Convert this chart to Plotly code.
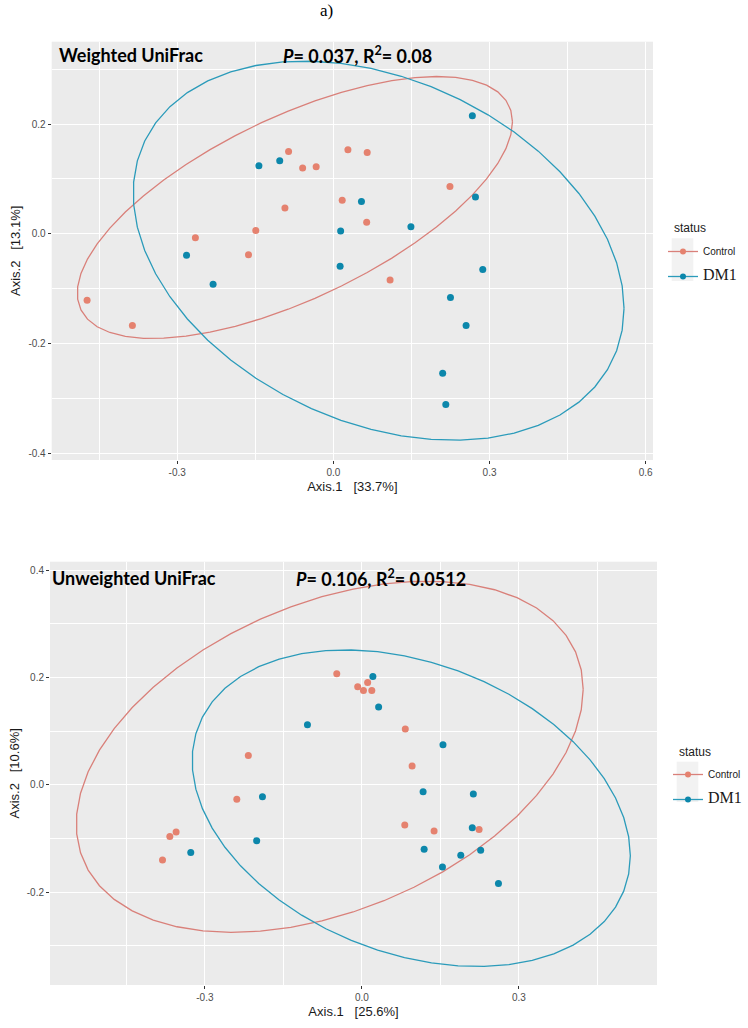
"""
Two PCoA panels (weighted / unweighted UniFrac) with 95% ellipses per group
"""

import numpy as np
import plotly.graph_objects as go

W, H = 748, 1028

# Weighted UniFrac, Axis.1 / Axis.2
w_ctrl_x = [-0.473, -0.386, -0.265, -0.163, -0.149, -0.093, -0.086, -0.059,
            -0.033, 0.028, 0.017, 0.065, 0.064, 0.224, 0.109]
w_ctrl_y = [-0.121, -0.167, -0.007, -0.038, 0.006, 0.047, 0.150, 0.120,
            0.122, 0.153, 0.061, 0.148, 0.021, 0.086, -0.084]
w_dm1_x = [-0.282, -0.231, -0.143, -0.103, 0.014, 0.013, 0.267, 0.054,
           0.149, 0.273, 0.287, 0.225, 0.255, 0.210, 0.216]
w_dm1_y = [-0.039, -0.092, 0.124, 0.133, 0.005, -0.059, 0.215, 0.059,
           0.013, 0.067, -0.065, -0.116, -0.167, -0.254, -0.311]

# Unweighted UniFrac, Axis.1 / Axis.2
u_ctrl_x = [-0.048, -0.008, 0.003, 0.011, 0.019, -0.217, -0.239, -0.355,
            -0.367, -0.381, 0.083, 0.096, 0.082, 0.138, 0.224]
u_ctrl_y = [0.207, 0.183, 0.176, 0.191, 0.176, 0.055, -0.027, -0.088,
            -0.096, -0.140, 0.104, 0.035, -0.075, -0.086, -0.083]
u_dm1_x = [-0.104, -0.190, -0.201, -0.327, 0.021, 0.032, 0.155, 0.117,
           0.213, 0.211, 0.119, 0.189, 0.227, 0.154, 0.261]
u_dm1_y = [0.112, -0.022, -0.104, -0.126, 0.202, 0.145, 0.075, -0.013,
           -0.017, -0.080, -0.120, -0.131, -0.122, -0.153, -0.184]

groups = ["Control", "DM1"]

# axis ticks
w_xticks = [-0.3, 0.0, 0.3, 0.6]
w_xminor = [-0.45, -0.15, 0.15, 0.45]
w_yticks = [-0.4, -0.2, 0.0, 0.2]
w_yminor = [-0.3, -0.1, 0.1, 0.3]
u_xticks = [-0.3, 0.0, 0.3]
u_xminor = [-0.45, -0.15, 0.15, 0.45]
u_yticks = [-0.2, 0.0, 0.2, 0.4]
u_yminor = [-0.3, -0.1, 0.1, 0.3]

pt_colors = {"Control": "#E5826F", "DM1": "#0C87AB"}
el_colors = {"Control": "#D9807A", "DM1": "#2B9BBA"}


def cov_trob(xy, nu=5, maxit=25, tol=0.01):
    # same iteration as MASS::cov.trob (used by ggplot2 stat_ellipse)
    n, p = xy.shape
    loc = xy.mean(axis=0)
    w = np.ones(n)
    for _ in range(maxit):
        w0 = w
        X = xy - loc
        S = (w[:, None] * X).T @ X / w.sum()
        Q = np.einsum("ij,jk,ik->i", X, np.linalg.inv(S), X)
        w = (nu + p) / (nu + Q)
        loc = (w[:, None] * xy).sum(axis=0) / w.sum()
        if np.all(np.abs(w - w0) < tol):
            break
    cov = (w[:, None] * X).T @ X / n
    return loc, cov


def ellipse(x, y, level=0.95, segments=51):
    xy = np.column_stack([x, y])
    center, shape = cov_trob(xy)
    d2 = len(x) - 1
    # F quantile with 2 numerator df has a closed form
    f = d2 / 2 * ((1 - level) ** (-2 / d2) - 1)
    radius = np.sqrt(2 * f)
    t = np.linspace(0, 2 * np.pi, segments + 1)
    circle = np.column_stack([np.cos(t), np.sin(t)])
    chol = np.linalg.cholesky(shape).T
    pts = center + radius * circle @ chol
    return pts[:, 0], pts[:, 1]


def fmt(v):
    return f"{v:.1f}"


fig = go.Figure()

panels = [
    ("x", "y", "legend", {"Control": (w_ctrl_x, w_ctrl_y), "DM1": (w_dm1_x, w_dm1_y)}),
    ("x2", "y2", "legend2", {"Control": (u_ctrl_x, u_ctrl_y), "DM1": (u_dm1_x, u_dm1_y)}),
]

for xa, ya, leg, data in panels:
    for g in groups:
        gx, gy = data[g]
        ex, ey = ellipse(gx, gy)
        fig.add_scatter(
            x=ex, y=ey, mode="lines", xaxis=xa, yaxis=ya,
            line=dict(color=el_colors[g], width=1.3), showlegend=False,
            hoverinfo="skip",
        )
    for g in groups:
        gx, gy = data[g]
        fig.add_scatter(
            x=gx, y=gy, mode="markers", xaxis=xa, yaxis=ya,
            marker=dict(color=pt_colors[g], size=7), showlegend=False,
            name=g,
        )
    # legend-only entries (line + point key like ggplot)
    for g in groups:
        if g == "DM1":
            label = "<span style='font-family:Liberation Serif;font-size:16px'>DM1</span>"
        else:
            label = "Control"
        fig.add_scatter(
            x=[None], y=[None], mode="lines+markers", xaxis=xa, yaxis=ya,
            marker=dict(color=pt_colors[g], size=6),
            line=dict(color=el_colors[g], width=1.3),
            name=label, legend=leg, legendgroup=g,
        )

axis_common = dict(
    showgrid=True, gridcolor="white", gridwidth=1.4, zeroline=False,
    showline=False, ticks="outside", ticklen=3, tickcolor="#333333",
    tickwidth=1, tickmode="array",
    tickfont=dict(family="Liberation Sans", size=10, color="#4D4D4D"),
    title_font=dict(family="Liberation Sans", size=13, color="#1A1A1A"),
    showspikes=False,
)


def minor(vals):
    return dict(tickvals=vals, showgrid=True, gridcolor="white",
                gridwidth=0.7, ticks="")


legend_common = dict(
    xanchor="left", yanchor="top", bgcolor="rgba(0,0,0,0)",
    font=dict(family="Liberation Sans", size=10, color="#1A1A1A"),
    itemwidth=30, tracegroupgap=6,
)

fig.update_layout(
    width=W, height=H,
    margin=dict(l=0, r=0, t=0, b=0),
    paper_bgcolor="white",
    plot_bgcolor="#EBEBEB",
    xaxis=dict(
        axis_common, domain=[51.7 / W, 653 / W], anchor="y",
        range=[-0.541, 0.614], tickvals=w_xticks,
        ticktext=[fmt(v) for v in w_xticks], minor=minor(w_xminor),
        title=dict(text="Axis.1   [33.7%]", standoff=4),
    ),
    yaxis=dict(
        axis_common, domain=[1 - 460 / H, 1 - 41.7 / H], anchor="x",
        range=[-0.412, 0.350], tickvals=w_yticks,
        ticktext=[fmt(v) for v in w_yticks], minor=minor(w_yminor),
        title=dict(text="Axis.2   [13.1%]", standoff=4),
    ),
    xaxis2=dict(
        axis_common, domain=[50 / W, 657 / W], anchor="y2",
        range=[-0.596, 0.564], tickvals=u_xticks,
        ticktext=[fmt(v) for v in u_xticks], minor=minor(u_xminor),
        title=dict(text="Axis.1   [25.6%]", standoff=4),
    ),
    yaxis2=dict(
        axis_common, domain=[1 - 985 / H, 1 - 561.7 / H], anchor="x2",
        range=[-0.373, 0.416], tickvals=u_yticks,
        ticktext=[fmt(v) for v in u_yticks], minor=minor(u_yminor),
        title=dict(text="Axis.2   [10.6%]", standoff=4),
    ),
    legend=dict(legend_common, x=663 / W, y=1 - 237 / H),
    legend2=dict(legend_common, x=668 / W, y=1 - 760 / H),
    showlegend=True,
)

# grey key backgrounds and "status" titles for the two legends
for x0, x1, y0, y1 in [(671.7, 693.3, 238.3, 281), (676.7, 698.3, 761.7, 802)]:
    fig.add_shape(
        type="rect", xref="paper", yref="paper", layer="below",
        x0=x0 / W, x1=x1 / W, y0=1 - y0 / H, y1=1 - y1 / H,
        fillcolor="#F2F2F2", line_width=0,
    )
    fig.add_annotation(
        xref="paper", yref="paper", x=x0 / W, y=1 - (y0 - 10) / H,
        xanchor="left", yanchor="middle", showarrow=False, text="status",
        font=dict(family="Liberation Sans", size=12, color="#1A1A1A"),
    )

# panel labels
label_font = dict(family="Lato", size=18, color="black")
for x0, x1, yc, name, stat in [
    (57, 281, 55, "Weighted UniFrac", "<i>P</i>= 0.037, R<sup>2</sup>= 0.08"),
    (50, 294, 578, "Unweighted UniFrac", "<i>P</i>= 0.106, R<sup>2</sup>= 0.0512"),
]:
    fig.add_annotation(
        xref="paper", yref="paper", x=x0 / W, y=1 - yc / H,
        xanchor="left", yanchor="middle", showarrow=False,
        text=f"<b>{name}</b>", font=label_font,
    )
    fig.add_annotation(
        xref="paper", yref="paper", x=x1 / W, y=1 - yc / H,
        xanchor="left", yanchor="middle", showarrow=False,
        text=f"<b>{stat}</b>", font=label_font,
    )

fig.add_annotation(
    xref="paper", yref="paper", x=326 / W, y=1 - 11 / H,
    xanchor="center", yanchor="middle", showarrow=False,
    text="a)", font=dict(family="Liberation Serif", size=17, color="black"),
)

# the page body has a default 8px margin; drop it so the figure sits at 0,0
fig.write_html(
    "out.html",
    config={"displayModeBar": False},
    post_script="document.body.style.margin='0px';",
)
